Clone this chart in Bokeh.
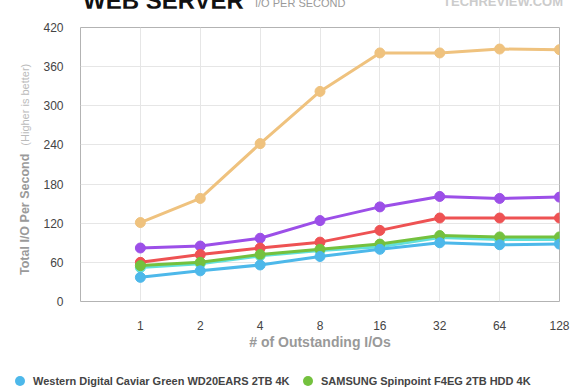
from bokeh.plotting import figure
from bokeh.models import FixedTicker, Range1d, Div
from bokeh.layouts import column
from bokeh.embed import file_html
from bokeh.resources import INLINE

# ---- data ----
categories = ["1", "2", "4", "8", "16", "32", "64", "128"]
y_ticks = [0, 60, 120, 180, 240, 300, 360, 420]

orange_vals = [121, 158, 242, 322, 381, 381, 387, 386]
purple_vals = [82, 85, 97, 124, 145, 161, 158, 160]
red_vals = [60, 72, 82, 91, 109, 128, 128, 128]
teal_vals = [52, 58, 70, 78, 84, 98, 95, 95]
green_vals = [55, 60, 72, 80, 88, 101, 99, 99]
blue_vals = [37, 47, 56, 69, 80, 90, 87, 88]

blue_name = "Western Digital Caviar Green WD20EARS 2TB 4K"
green_name = "SAMSUNG Spinpoint F4EG 2TB HDD 4K"

title_text = "WEB SERVER"
subtitle_text = "I/O PER SECOND"
logo_text = "TECHREVIEW.COM"
ylabel_main = "Total I/O Per Second"
ylabel_note = "(Higher is better)"
xlabel_text = "# of Outstanding I/Os"

FONT = "Liberation Sans"
BLUE, GREEN = "#4DB8EA", "#74C13E"

xpos = list(range(1, len(categories) + 1))

p = figure(width=580, height=382, output_backend="svg", toolbar_location=None,
           x_range=Range1d(0, len(categories)), y_range=Range1d(0, 420),
           min_border_left=80, min_border_right=21, min_border_top=19,
           min_border_bottom=89)

p.outline_line_color = "#b3b3b3"
p.outline_line_width = 1
p.background_fill_color = "white"
p.border_fill_color = "white"

p.xgrid.grid_line_color = "#e6e6e6"
p.ygrid.grid_line_color = "#e6e6e6"
p.xaxis.ticker = FixedTicker(ticks=xpos)
p.xaxis.major_label_overrides = {i: c for i, c in zip(xpos, categories)}
p.yaxis.ticker = FixedTicker(ticks=y_ticks)

for ax in (p.xaxis[0], p.yaxis[0]):
    ax.axis_line_color = None
    ax.major_tick_line_color = None
    ax.minor_tick_line_color = None
    ax.major_label_text_font = FONT
    ax.major_label_text_font_size = "12px"
    ax.major_label_text_color = "#444444"
p.yaxis.major_label_standoff = 11
p.xaxis.major_label_standoff = 13
p.xaxis.axis_label = xlabel_text
p.xaxis.axis_label_text_font = FONT
p.xaxis.axis_label_text_font_size = "14px"
p.xaxis.axis_label_text_font_style = "bold"
p.xaxis.axis_label_text_color = "#999999"
p.xaxis.axis_label_standoff = 1

series = [
    (orange_vals, "#EFC27E"),
    (purple_vals, "#9C4FE8"),
    (red_vals, "#EE5253"),
    (teal_vals, "#62E0DA"),
    (green_vals, GREEN),
    (blue_vals, BLUE),
]
for vals, col in series:
    p.line(xpos, vals, line_color=col, line_width=3)
    p.scatter(xpos, vals, size=10, fill_color=col, line_color=col)

dot = "display:inline-block;width:10px;height:10px;border-radius:5px;vertical-align:-1px;margin-right:8px;"
item = f"position:absolute;top:369px;z-index:10;white-space:nowrap;font:bold 11px/16px '{FONT}';color:#444;"
header_html = f"""
<div style="position:relative;width:580px;height:8px;">
  <span style="position:absolute;left:83px;top:-15px;white-space:nowrap;font:bold 24px/24px '{FONT}';color:#111;">{title_text}</span>
  <span style="position:absolute;left:255px;top:-6px;white-space:nowrap;font:11px/11px '{FONT}';color:#9a9a9a;">{subtitle_text}</span>
  <span style="position:absolute;right:17px;top:-9px;white-space:nowrap;font:bold 13px/13px '{FONT}';color:#cccccc;">{logo_text}</span>
  <div style="position:absolute;left:17px;top:271px;z-index:10;white-space:nowrap;line-height:16px;transform-origin:0 0;transform:rotate(-90deg);">
    <span style="font:bold 12.5px '{FONT}';color:#9a9a9a;">{ylabel_main}</span><span style="font:11px '{FONT}';color:#bbbbbb;margin-left:8px;">{ylabel_note}</span>
  </div>
  <div style="{item}left:15px;"><span style="{dot}background:{BLUE};"></span>{blue_name}</div>
  <div style="{item}left:303px;"><span style="{dot}background:{GREEN};"></span>{green_name}</div>
</div>
"""
header = Div(text=header_html, width=580, height=8, margin=0)

layout = column(header, p, spacing=0)
open("out.html", "w").write(file_html(layout, INLINE))
